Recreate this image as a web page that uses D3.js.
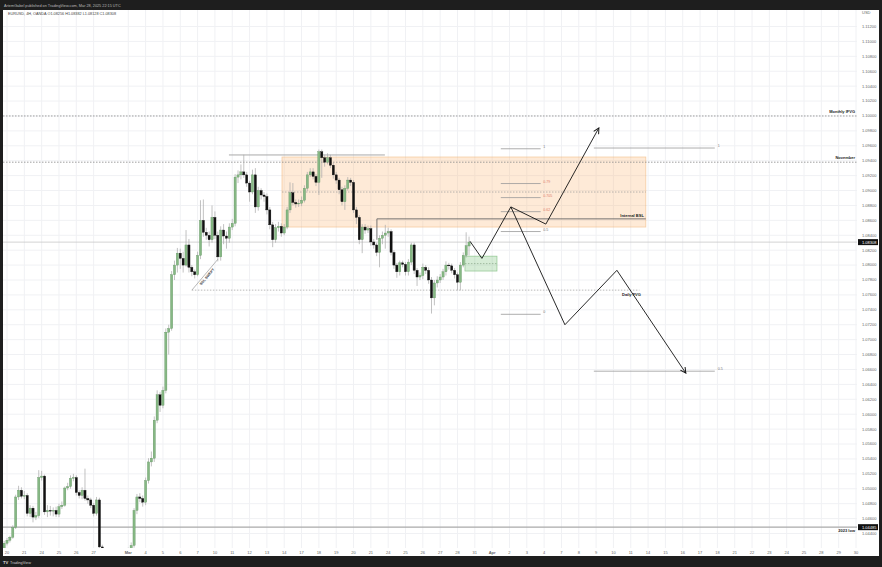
<!DOCTYPE html>
<html>
<head>
<meta charset="utf-8">
<script src="https://cdn.jsdelivr.net/npm/d3@7"></script>
<style>
  body { margin: 0; background: #1e1e1e; }
  svg { display: block; font-family: "Liberation Sans", Arial, sans-serif; }
</style>
</head>
<body>
<svg id="chart" width="882" height="567"></svg>
<script>
// ---- data (EURUSD 4H, OANDA) ----
// first bar index: -1 = last 4H bar before Feb 20; 6 bars per trading day
const firstBar = -1
// [open, high, low, close]
const candles = [
  [1.0420,1.0430,1.0417,1.0427],[1.0427,1.0434,1.0424,1.0431],[1.0431,1.0437,1.0428,1.0435],[1.0435,1.0451,1.0433,1.0448],
  [1.0448,1.0492,1.0446,1.0489],[1.0489,1.0504,1.0485,1.0498],[1.0498,1.0502,1.0487,1.0490],[1.0490,1.0497,1.0486,1.0491],
  [1.0491,1.0494,1.0463,1.0467],[1.0467,1.0478,1.0462,1.0474],[1.0474,1.0477,1.0455,1.0462],[1.0462,1.0469,1.0458,1.0464],
  [1.0464,1.0525,1.0461,1.0515],[1.0515,1.0524,1.0511,1.0517],[1.0517,1.0519,1.0465,1.0469],[1.0469,1.0478,1.0462,1.0471],
  [1.0471,1.0477,1.0464,1.0470],[1.0470,1.0475,1.0463,1.0471],[1.0471,1.0476,1.0462,1.0466],[1.0466,1.0480,1.0462,1.0476],
  [1.0476,1.0483,1.0473,1.0478],[1.0478,1.0503,1.0476,1.0501],[1.0501,1.0508,1.0498,1.0503],[1.0503,1.0518,1.0500,1.0514],
  [1.0514,1.0520,1.0510,1.0515],[1.0515,1.0518,1.0491,1.0495],[1.0495,1.0498,1.0487,1.0491],[1.0491,1.0502,1.0486,1.0498],
  [1.0498,1.0527,1.0484,1.0487],[1.0487,1.0491,1.0480,1.0485],[1.0485,1.0488,1.0474,1.0478],[1.0478,1.0481,1.0463,1.0467],
  [1.0467,1.0489,1.0464,1.0485],[1.0485,1.0488,1.0418,1.0422],[1.0422,1.0425,1.0392,1.0398],[1.0398,1.0405,1.0375,1.0386],
  [1.0386,1.0392,1.0372,1.0380],[1.0380,1.0388,1.0370,1.0378],[1.0378,1.0396,1.0370,1.0390],[1.0390,1.0398,1.0378,1.0385],
  [1.0385,1.0390,1.0360,1.0370],[1.0370,1.0381,1.0362,1.0375],[1.0375,1.0418,1.0372,1.0405],[1.0405,1.0421,1.0400,1.0415],
  [1.0415,1.0428,1.0410,1.0424],[1.0424,1.0474,1.0421,1.0471],[1.0471,1.0493,1.0466,1.0489],[1.0489,1.0494,1.0482,1.0487],
  [1.0487,1.0491,1.0476,1.0482],[1.0482,1.0515,1.0478,1.0511],[1.0511,1.0541,1.0507,1.0536],[1.0536,1.0550,1.0530,1.0541],
  [1.0541,1.0597,1.0536,1.0592],[1.0592,1.0632,1.0588,1.0626],[1.0626,1.0630,1.0603,1.0612],[1.0612,1.0637,1.0608,1.0632],
  [1.0632,1.0715,1.0628,1.0710],[1.0710,1.0720,1.0680,1.0715],[1.0715,1.0792,1.0712,1.0787],[1.0787,1.0806,1.0780,1.0800],
  [1.0800,1.0823,1.0790,1.0816],[1.0816,1.0822,1.0795,1.0809],[1.0809,1.0818,1.0790,1.0800],[1.0800,1.0847,1.0798,1.0827],
  [1.0827,1.0835,1.0790,1.0797],[1.0797,1.0800,1.0785,1.0791],[1.0791,1.0794,1.0782,1.0787],[1.0787,1.0818,1.0785,1.0813],
  [1.0813,1.0887,1.0808,1.0860],[1.0860,1.0888,1.0838,1.0844],[1.0844,1.0850,1.0834,1.0840],[1.0840,1.0845,1.0825,1.0834],
  [1.0834,1.0880,1.0830,1.0864],[1.0864,1.0872,1.0835,1.0840],[1.0840,1.0845,1.0805,1.0811],[1.0811,1.0852,1.0806,1.0847],
  [1.0847,1.0855,1.0828,1.0839],[1.0839,1.0845,1.0822,1.0836],[1.0836,1.0856,1.0830,1.0851],[1.0851,1.0862,1.0847,1.0856],
  [1.0856,1.0922,1.0852,1.0918],[1.0918,1.0927,1.0910,1.0921],[1.0921,1.0935,1.0915,1.0925],[1.0925,1.0948,1.0917,1.0921],
  [1.0921,1.0925,1.0905,1.0910],[1.0910,1.0913,1.0885,1.0898],[1.0898,1.0928,1.0895,1.0921],[1.0921,1.0930,1.0870,1.0878],
  [1.0878,1.0905,1.0873,1.0900],[1.0900,1.0903,1.0888,1.0894],[1.0894,1.0898,1.0885,1.0892],[1.0892,1.0896,1.0868,1.0874],
  [1.0874,1.0878,1.0848,1.0854],[1.0854,1.0858,1.0824,1.0834],[1.0834,1.0855,1.0830,1.0850],[1.0850,1.0858,1.0845,1.0852],
  [1.0852,1.0856,1.0838,1.0843],[1.0843,1.0855,1.0840,1.0851],[1.0851,1.0878,1.0848,1.0874],[1.0874,1.0911,1.0870,1.0897],
  [1.0897,1.0910,1.0880,1.0884],[1.0884,1.0888,1.0877,1.0882],[1.0882,1.0888,1.0878,1.0883],[1.0883,1.0892,1.0879,1.0887],
  [1.0887,1.0907,1.0884,1.0903],[1.0903,1.0925,1.0899,1.0921],[1.0921,1.0930,1.0918,1.0925],[1.0925,1.0930,1.0915,1.0919],
  [1.0919,1.0922,1.0906,1.0911],[1.0911,1.0955,1.0894,1.0952],[1.0952,1.0955,1.0917,1.0944],[1.0944,1.0948,1.0932,1.0938],
  [1.0938,1.0950,1.0935,1.0944],[1.0944,1.0948,1.0930,1.0934],[1.0934,1.0937,1.0916,1.0921],[1.0921,1.0925,1.0909,1.0914],
  [1.0914,1.0917,1.0895,1.0901],[1.0901,1.0905,1.0880,1.0885],[1.0885,1.0907,1.0874,1.0903],[1.0903,1.0918,1.0900,1.0914],
  [1.0914,1.0917,1.0906,1.0911],[1.0911,1.0914,1.0870,1.0874],[1.0874,1.0878,1.0855,1.0864],[1.0864,1.0867,1.0828,1.0834],
  [1.0834,1.0855,1.0816,1.0851],[1.0851,1.0855,1.0842,1.0847],[1.0847,1.0853,1.0843,1.0849],[1.0849,1.0853,1.0826,1.0831],
  [1.0831,1.0835,1.0822,1.0827],[1.0827,1.0830,1.0812,1.0817],[1.0817,1.0840,1.0797,1.0836],[1.0836,1.0845,1.0828,1.0840],
  [1.0840,1.0854,1.0822,1.0843],[1.0843,1.0850,1.0838,1.0845],[1.0845,1.0848,1.0813,1.0817],[1.0817,1.0820,1.0795,1.0800],
  [1.0800,1.0803,1.0783,1.0791],[1.0791,1.0806,1.0786,1.0803],[1.0803,1.0806,1.0797,1.0801],[1.0801,1.0804,1.0786,1.0791],
  [1.0791,1.0808,1.0786,1.0804],[1.0804,1.0830,1.0800,1.0827],[1.0827,1.0830,1.0788,1.0793],[1.0793,1.0796,1.0772,1.0784],
  [1.0784,1.0790,1.0780,1.0786],[1.0786,1.0802,1.0781,1.0797],[1.0797,1.0800,1.0788,1.0793],[1.0793,1.0797,1.0775,1.0780],
  [1.0780,1.0784,1.0735,1.0756],[1.0756,1.0780,1.0746,1.0776],[1.0776,1.0785,1.0770,1.0780],[1.0780,1.0788,1.0776,1.0784],
  [1.0784,1.0795,1.0780,1.0791],[1.0791,1.0805,1.0786,1.0800],[1.0800,1.0803,1.0794,1.0799],[1.0799,1.0802,1.0789,1.0793],
  [1.0793,1.0796,1.0782,1.0787],[1.0787,1.0790,1.0766,1.0777],[1.0777,1.0804,1.0766,1.0800],[1.0800,1.0817,1.0797,1.0813],
  [1.0813,1.0844,1.0810,1.0826],[1.08256,1.08382,1.08128,1.08308]
]

// time axis: trading-day index -> label
const dayIndex = [0,1,2,3,4,5,7,8,9,10,11,12,13,14,15,16,17,18,19,20,21,22,23,24,25,26,27,28,29,30,31,32,33,34,35,36,37,38,39,40,41,42,43,44,45,46,47,48,49]
const dayLabels = ['20','21','24','25','26','27','Mar','4','5','6','7','10','11','12','13','14','17','18','19','20','21','24','25','26','27','28','31','Apr','2','3','4','7','8','9','10','11','14','15','16','17','18','21','22','23','24','25','28','29','30']
const priceTicks = [1.112,1.110,1.108,1.106,1.104,1.102,1.100,1.098,1.096,1.094,1.092,1.090,1.088,1.086,1.084,1.082,1.080,1.078,1.076,1.074,1.072,1.070,1.068,1.066,1.064,1.062,1.060,1.058,1.056,1.054,1.052,1.050,1.048,1.046,1.044]

const lastPrice = 1.08308
const low2023 = 1.04485
const monthlyIFVG = 1.1000
const novemberLevel = 1.0938
const highsLine = [12.81, 21.81, 1.09477]           // day from, day to, price
const premiumBox = [15.87, 36.87, 1.0945, 1.0851]    // day from, day to, top, bottom
const fvgBox = [26.43, 28.28, 1.0812, 1.0792]
const internalBSL = [21.35, 36.87, 1.0862, 1.0834]   // day from, day to, level, base
const dailyFVG = [10.67, 36.5, 1.07664]
const sslSwept = [[10.67, 1.07664], [12.18, 1.08081]]
const fibDays = [28.5, 30.8]
const fibLow = 1.0734, fibHigh = 1.0956
const fibLevels = [1, 0.79, 0.705, 0.62, 0.5, 0]
const extDays = [33.87, 40.85]
const extLevels = [[1, 1.0957], [0.5, 1.06577]]
const bullPath = [[26.72,1.0832],[27.41,1.0809],[29.08,1.0878],[31.10,1.0855],[34.16,1.0984]]
const bearPath = [[29.08,1.0878],[32.20,1.0720],[35.20,1.0793],[39.18,1.0655]]

// ---- drawing ----
const svg = d3.select('#chart')
const W = 882, H = 567
const pane = {left: 3, right: 857, top: 10, bottom: 548}

const x = d3.scaleLinear().domain([0, 49]).range([7, 856])
const y = d3.scaleLinear().domain([1.044, 1.112]).range([533.5, 26.5])
const xb = k => x(k / 6)

svg.append('rect').attr('width', W).attr('height', H).attr('fill', '#1e1e1e')
svg.append('rect').attr('x', 3).attr('y', 10).attr('width', 876).attr('height', 546).attr('fill', '#fff')

const defs = svg.append('defs')
defs.append('clipPath').attr('id', 'paneClip')
  .append('rect').attr('x', pane.left).attr('y', pane.top)
  .attr('width', pane.right - pane.left).attr('height', pane.bottom - pane.top)
defs.append('marker').attr('id', 'arrow')
  .attr('viewBox', '0 0 10 10').attr('refX', 9).attr('refY', 5)
  .attr('markerWidth', 7).attr('markerHeight', 7).attr('markerUnits', 'userSpaceOnUse')
  .attr('orient', 'auto')
  .append('path').attr('d', 'M1,1 L9,5 L1,9').attr('fill', 'none').attr('stroke', '#111').attr('stroke-width', 1.4)

const g = svg.append('g').attr('clip-path', 'url(#paneClip)')

// grid
g.selectAll('.vgrid').data(dayIndex).enter().append('line')
  .attr('x1', d => x(d)).attr('x2', d => x(d)).attr('y1', pane.top).attr('y2', pane.bottom)
  .attr('stroke', '#f0f1f4').attr('stroke-width', 1)
g.selectAll('.hgrid').data(priceTicks).enter().append('line')
  .attr('x1', pane.left).attr('x2', pane.right).attr('y1', d => y(d)).attr('y2', d => y(d))
  .attr('stroke', '#f0f1f4').attr('stroke-width', 1)

// premium box
g.append('rect')
  .attr('x', x(premiumBox[0])).attr('width', x(premiumBox[1]) - x(premiumBox[0]))
  .attr('y', y(premiumBox[2])).attr('height', y(premiumBox[3]) - y(premiumBox[2]))
  .attr('fill', 'rgba(250,180,110,0.28)').attr('stroke', 'rgba(240,170,100,0.5)').attr('stroke-width', 0.8)
g.append('line')
  .attr('x1', x(premiumBox[0])).attr('x2', x(premiumBox[1]))
  .attr('y1', y((premiumBox[2] + premiumBox[3]) / 2)).attr('y2', y((premiumBox[2] + premiumBox[3]) / 2))
  .attr('stroke', '#999').attr('stroke-width', 0.7).attr('stroke-dasharray', '1.5,1.5')

// fvg box
g.append('rect')
  .attr('x', x(fvgBox[0])).attr('width', x(fvgBox[1]) - x(fvgBox[0]))
  .attr('y', y(fvgBox[2])).attr('height', y(fvgBox[3]) - y(fvgBox[2]))
  .attr('fill', 'rgba(90,180,90,0.25)').attr('stroke', 'rgba(90,170,90,0.6)').attr('stroke-width', 0.7)
g.append('line')
  .attr('x1', x(fvgBox[0])).attr('x2', x(fvgBox[1]))
  .attr('y1', y((fvgBox[2] + fvgBox[3]) / 2)).attr('y2', y((fvgBox[2] + fvgBox[3]) / 2))
  .attr('stroke', '#7a9a7a').attr('stroke-width', 0.6).attr('stroke-dasharray', '1.5,1.5')

// full-width levels
function hline(price, color, dash, width) {
  g.append('line').attr('x1', pane.left).attr('x2', pane.right)
    .attr('y1', y(price)).attr('y2', y(price))
    .attr('stroke', color).attr('stroke-width', width).attr('stroke-dasharray', dash)
}
hline(monthlyIFVG, '#888', '1.5,1.5', 0.8)
hline(novemberLevel, '#888', '1.5,1.5', 0.8)
hline(lastPrice, '#c8c8c8', null, 0.8)
hline(low2023, '#aaa', null, 1.2)

// highs line
g.append('line').attr('x1', x(highsLine[0])).attr('x2', x(highsLine[1]))
  .attr('y1', y(highsLine[2])).attr('y2', y(highsLine[2]))
  .attr('stroke', '#aaa').attr('stroke-width', 1)

// daily fvg dotted
g.append('line').attr('x1', x(dailyFVG[0])).attr('x2', x(dailyFVG[1]))
  .attr('y1', y(dailyFVG[2])).attr('y2', y(dailyFVG[2]))
  .attr('stroke', '#999').attr('stroke-width', 0.7).attr('stroke-dasharray', '1.5,1.5')

// internal BSL
g.append('path')
  .attr('d', d3.line()([[x(internalBSL[0]), y(internalBSL[3])], [x(internalBSL[0]), y(internalBSL[2])], [x(internalBSL[1]), y(internalBSL[2])]]))
  .attr('fill', 'none').attr('stroke', '#666').attr('stroke-width', 0.9)

// SSL swept line
g.append('line')
  .attr('x1', x(sslSwept[0][0])).attr('y1', y(sslSwept[0][1]))
  .attr('x2', x(sslSwept[1][0])).attr('y2', y(sslSwept[1][1]))
  .attr('stroke', '#999').attr('stroke-width', 0.7)

// fib
const fibPrice = l => fibLow + (fibHigh - fibLow) * l
g.selectAll('.fib').data(fibLevels).enter().append('line')
  .attr('x1', x(fibDays[0])).attr('x2', x(fibDays[1]))
  .attr('y1', d => y(fibPrice(d))).attr('y2', d => y(fibPrice(d)))
  .attr('stroke', '#999').attr('stroke-width', 0.8)
g.selectAll('.fibt').data(fibLevels).enter().append('text')
  .attr('x', x(fibDays[1]) + 2.5).attr('y', d => y(fibPrice(d)) - 1)
  .attr('font-size', 3.6)
  .attr('fill', d => (d === 0.79 || d === 0.705 || d === 0.62) ? '#e07b6a' : '#777')
  .text(d => d)
g.selectAll('.ext').data(extLevels).enter().append('line')
  .attr('x1', x(extDays[0])).attr('x2', x(extDays[1]))
  .attr('y1', d => y(d[1])).attr('y2', d => y(d[1]))
  .attr('stroke', '#999').attr('stroke-width', 0.8)
g.selectAll('.extt').data(extLevels).enter().append('text')
  .attr('x', x(extDays[1]) + 3).attr('y', d => y(d[1]) - 1)
  .attr('font-size', 3.6).attr('fill', '#777')
  .text(d => d[0])

// candles
const bars = g.selectAll('.bar').data(candles).enter().append('g')
bars.append('line')
  .attr('x1', (d, i) => xb(i + firstBar)).attr('x2', (d, i) => xb(i + firstBar))
  .attr('y1', d => y(d[1])).attr('y2', d => y(d[2]))
  .attr('stroke', '#a8a8a8').attr('stroke-width', 0.7)
bars.append('rect')
  .attr('x', (d, i) => xb(i + firstBar) - 1.1).attr('width', 2.2)
  .attr('y', d => y(Math.max(d[0], d[3])))
  .attr('height', d => Math.max(0.7, Math.abs(y(d[0]) - y(d[3]))))
  .attr('fill', d => d[3] >= d[0] ? '#86b884' : '#111')
  .attr('stroke', d => d[3] >= d[0] ? '#5f915f' : '#111').attr('stroke-width', 0.35)

// scenario paths
const pathGen = d3.line().x(d => x(d[0])).y(d => y(d[1]))
g.append('path').attr('d', pathGen(bullPath)).attr('fill', 'none')
  .attr('stroke', '#111').attr('stroke-width', 0.9).attr('marker-end', 'url(#arrow)')
g.append('path').attr('d', pathGen(bearPath)).attr('fill', 'none')
  .attr('stroke', '#111').attr('stroke-width', 0.9).attr('marker-end', 'url(#arrow)')

// labels on chart
function label(tx, ty, str, anchor) {
  g.append('text').attr('x', tx).attr('y', ty).attr('text-anchor', anchor || 'start')
    .attr('font-size', 4).attr('font-weight', 'bold').attr('fill', '#222').text(str)
}
label(855, y(monthlyIFVG) - 3, 'Monthly IFVG', 'end')
label(855, y(novemberLevel) - 3, 'November', 'end')
label(855, y(low2023) + 5, '2023 low', 'end')
label(x(internalBSL[1]) - 2, y(internalBSL[2]) - 1.5, 'Internal BSL', 'end')
label(622, y(dailyFVG[2]) + 5.5, 'Daily FVG')
const sx = (x(sslSwept[0][0]) + x(sslSwept[1][0])) / 2 + 3
const sy = (y(sslSwept[0][1]) + y(sslSwept[1][1])) / 2 + 3
const ang = Math.atan2(y(sslSwept[1][1]) - y(sslSwept[0][1]), x(sslSwept[1][0]) - x(sslSwept[0][0])) * 180 / Math.PI
g.append('text').attr('transform', `translate(${sx},${sy}) rotate(${ang})`)
  .attr('text-anchor', 'middle').attr('font-size', 3.6).attr('font-weight', 'bold').attr('fill', '#333')
  .text('SSL SWEPT')

// price axis
svg.selectAll('.ptick').data(priceTicks).enter().append('text')
  .attr('x', 862).attr('y', d => y(d) + 1.4)
  .attr('font-size', 4).attr('fill', '#666')
  .text(d => d.toFixed(5))
svg.append('text').attr('x', 862).attr('y', 14).attr('font-size', 4).attr('fill', '#666').text('USD')
function priceBadge(price) {
  svg.append('rect').attr('x', 858).attr('y', y(price) - 3).attr('width', 20).attr('height', 6).attr('fill', '#111')
  svg.append('text').attr('x', 862).attr('y', y(price) + 1.4).attr('font-size', 4).attr('fill', '#fff').text(price.toFixed(5))
}
priceBadge(lastPrice)
priceBadge(low2023)

// time axis
svg.selectAll('.dtick').data(dayIndex).enter().append('text')
  .attr('x', d => x(d)).attr('y', 554)
  .attr('text-anchor', 'middle').attr('font-size', 4)
  .attr('font-weight', (d, i) => (dayLabels[i] === 'Mar' || dayLabels[i] === 'Apr') ? 'bold' : 'normal')
  .attr('fill', '#666')
  .text((d, i) => dayLabels[i])

// header / footer
svg.append('text').attr('x', 4).attr('y', 6.5).attr('font-size', 3.8).attr('fill', '#bbb')
  .text('ArtemGabel published on TradingView.com, Mar 28, 2025 22:15 UTC')
svg.append('text').attr('x', 8).attr('y', 14.5).attr('font-size', 3.8).attr('fill', '#444')
  .text('EURUSD, 4H, OANDA  O1.08256  H1.08382  L1.08128  C1.08308')
svg.append('text').attr('x', 3).attr('y', 563.5).attr('font-size', 4.2).attr('font-weight', 'bold').attr('fill', '#ddd')
  .text('TV')
svg.append('text').attr('x', 10).attr('y', 563.5).attr('font-size', 3.8).attr('fill', '#ccc')
  .text('TradingView')
</script>
</body>
</html>
